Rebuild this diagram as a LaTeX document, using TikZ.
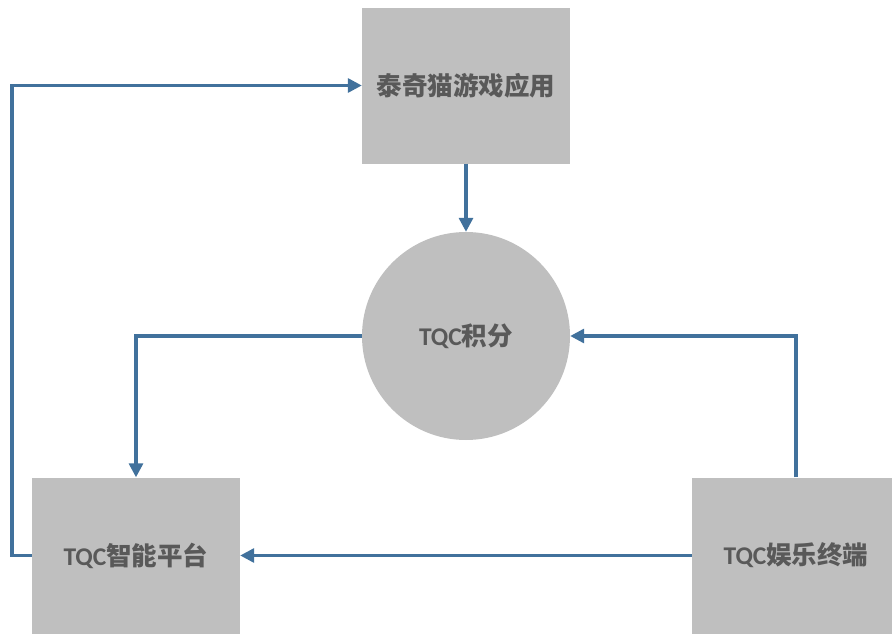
\documentclass[tikz,border=0pt]{standalone}
\usepackage{fontspec}
\newfontfamily\cjk{Noto Sans CJK SC}
\newfontfamily\lat{Carlito}
\usetikzlibrary{arrows.meta}
\definecolor{boxgray}{HTML}{BFBFBF}
\definecolor{textgray}{HTML}{595959}
\definecolor{linkblue}{HTML}{41719C}
\begin{document}
\begin{tikzpicture}[x=1pt,y=-1pt]
			\tikzset{
			  BlockStyle/.style = { fill = boxgray, draw = none,
			                        minimum width = 208pt, minimum height = 156pt,
			                        inner sep = 0pt, text = textgray,
			                        font = \cjk\bfseries\fontsize{25.5}{30}\selectfont },
			  PoolStyle/.style = { BlockStyle, circle, minimum size = 208pt },
			  LinkStyle/.style = { draw = linkblue, line width = 3.2pt,
			                       -{Triangle[length=14pt, width=14pt]} } }
			\useasboundingbox (0,0) rectangle (892,637);
			\node[BlockStyle] (app) at (466,85.5) {泰奇猫游戏应用};
			\node[PoolStyle] (points) at (466,336) {{\lat\bfseries TQC}积分};
			\node[BlockStyle] (platform) at (136,555.5) {{\lat\bfseries TQC}智能平台};
			\node[BlockStyle] (terminal) at (796,555.5) {{\lat\bfseries TQC}娱乐终端};
			\coordinate (loop) at (12,555.5);
			% connectors
			\draw[LinkStyle] (app) -- (points);
			\draw[LinkStyle] (points.west) -| (platform.north);
			\draw[LinkStyle] (terminal.north) |- (points.east);
			\draw[LinkStyle] (terminal.west) -- (platform.east);
			\draw[LinkStyle] (platform.west) -- (loop) |- (app.west);
\end{tikzpicture}
\end{document}
